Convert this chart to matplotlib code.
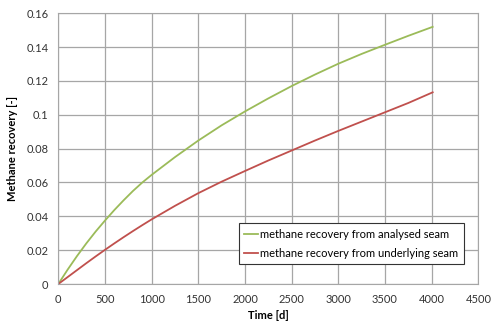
import numpy as np
import matplotlib.pyplot as plt

plt.rcParams['font.family'] = ['Lato', 'DejaVu Sans']

# values
time_d = [0, 100, 200, 300, 400, 500, 600, 700, 800, 900, 1000, 1250, 1500, 1750,
          2000, 2250, 2500, 2750, 3000, 3250, 3500, 3750, 4011]
analysed = [0, 0.0085, 0.0165, 0.024, 0.031, 0.0375, 0.0437, 0.0495, 0.0550, 0.0600,
            0.0645, 0.0750, 0.0848, 0.0938, 0.1020, 0.1097, 0.1170, 0.1238, 0.1302,
            0.1360, 0.1414, 0.1467, 0.152]
underlying = [0, 0.0041, 0.0082, 0.0123, 0.0163, 0.0202, 0.0240, 0.0277, 0.0313, 0.0348,
              0.0382, 0.0462, 0.0537, 0.0605, 0.0668, 0.0730, 0.0789, 0.0848, 0.0905,
              0.0960, 0.1015, 0.1070, 0.1133]

fig = plt.figure(figsize=(4.97, 3.23), dpi=100)
ax = fig.add_axes([0.1173, 0.1207, 0.8451, 0.8381])

ax.plot(time_d, analysed, color='#9BBB59', lw=1.3, label='methane recovery from analysed seam')
ax.plot(time_d, underlying, color='#C0504D', lw=1.3, label='methane recovery from underlying seam')

ax.set_xlim(0, 4500)
ax.set_ylim(0, 0.16)
ax.set_xticks(np.arange(0, 4501, 500))
ax.set_yticks(np.arange(0, 0.161, 0.02))
ax.set_yticklabels(['0', '0.02', '0.04', '0.06', '0.08', '0.1', '0.12', '0.14', '0.16'])
ax.grid(True, color='#A6A6A6', lw=0.9)
ax.set_axisbelow(True)
for s in ax.spines.values():
    s.set_color('#A6A6A6')
ax.tick_params(length=0, labelsize=8, colors='#333333', pad=7)

ax.set_xlabel('Time [d]', fontsize=8, fontweight='bold', labelpad=4)
ax.set_ylabel('Methane recovery [-]', fontsize=8, fontweight='bold', labelpad=6)

leg = ax.legend(loc='lower right', bbox_to_anchor=(0.978, 0.052), fontsize=8,
                frameon=True, fancybox=False, edgecolor='#333333', framealpha=1,
                handlelength=1.2, handletextpad=0.2, borderpad=0.5, labelspacing=0.7)
leg.get_frame().set_linewidth(0.8)

fig.savefig('out.png', dpi=100)
